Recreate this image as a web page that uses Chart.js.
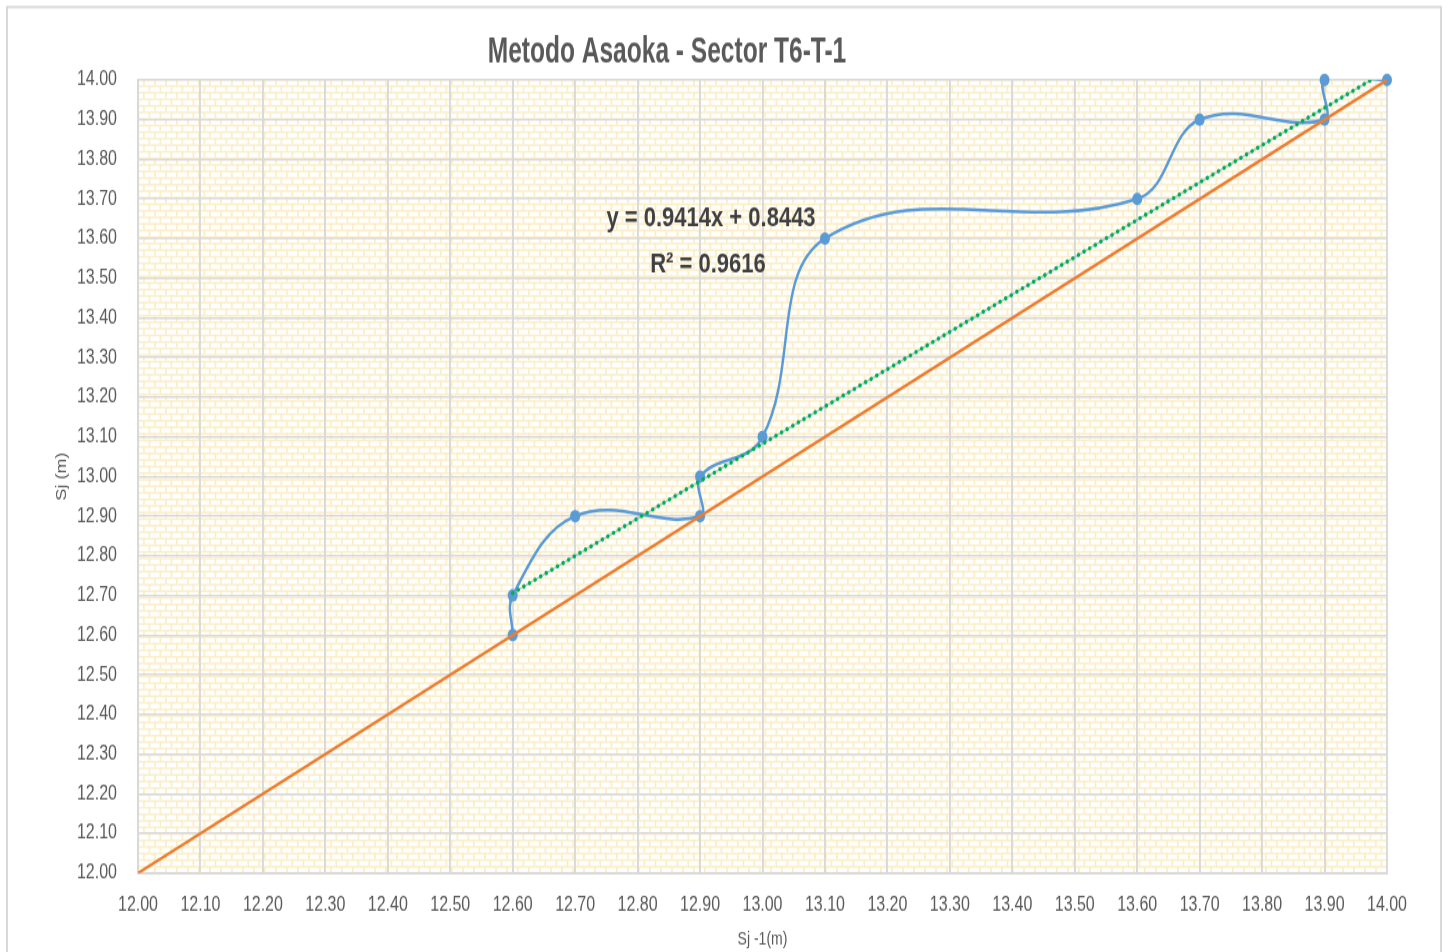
<!DOCTYPE html>
<html>
<head>
<meta charset="utf-8">
<title>Metodo Asaoka - Sector T6-T-1</title>
<script src="https://cdn.jsdelivr.net/npm/chart.js@4/dist/chart.umd.min.js"></script>
<style>
  html, body { margin: 0; padding: 0; background: #ffffff; overflow: hidden; }
  /* the chart is drawn on a shorter canvas and stretched to full height */
  #wrap { position: absolute; left: 0; top: 0; width: 1449px; height: 762px;
          transform-origin: 0 0; transform: scaleY(1.24934); }
  canvas { display: block; }
</style>
</head>
<body>
<div id="wrap"><canvas id="asaoka" width="1449" height="762"></canvas></div>
<script>
const FONT = "'Liberation Sans', Arial, sans-serif";

// Axis tick labels (settlement, m)
const xTickLabels = ['12.00','12.10','12.20','12.30','12.40','12.50','12.60','12.70','12.80','12.90',
                     '13.00','13.10','13.20','13.30','13.40','13.50','13.60','13.70','13.80','13.90','14.00'];
const yTickLabels = ['12.00','12.10','12.20','12.30','12.40','12.50','12.60','12.70','12.80','12.90',
                     '13.00','13.10','13.20','13.30','13.40','13.50','13.60','13.70','13.80','13.90','14.00'];

// Asaoka pairs: previous settlement S(j-1) against current settlement S(j)
const sjPrev = [12.60, 12.60, 12.70, 12.90, 12.90, 13.00, 13.10, 13.60, 13.70, 13.90, 13.90, 14.00];
const sjCurr = [12.60, 12.70, 12.90, 12.90, 13.00, 13.10, 13.60, 13.70, 13.90, 13.90, 14.00, 14.00];

// 45-degree reference line S(j) = S(j-1)
const equalityX = [12.00, 14.00];

// Linear fit of the Asaoka pairs
const trendSlope = 0.9414;
const trendIntercept = 0.8443;
const trendR2 = 0.9616;
const trendX = [12.60, 14.00];

const asaokaPoints = sjPrev.map((x, i) => ({ x: x, y: sjCurr[i] }));
const equalityPoints = equalityX.map(v => ({ x: v, y: v }));
const trendPoints = trendX.map(x => ({ x: x, y: trendSlope * x + trendIntercept }));

const titleText = 'Metodo Asaoka - Sector T6-T-1';
const eqText = 'y = ' + trendSlope.toFixed(4) + 'x + ' + trendIntercept.toFixed(4);
const r2Text = 'R\u00B2 = ' + trendR2.toFixed(4);

// Brick fill for the plot area
let brickFill = null;
function makeBrickFill(ctx) {
  const tile = document.createElement('canvas');
  tile.width = 11; tile.height = 21;
  const t = tile.getContext('2d');
  t.fillStyle = '#ffffff';
  t.fillRect(0, 0, 11, 21);
  t.fillStyle = '#FCEEC6';
  const rowH = 5.25;
  for (let r = 0; r < 4; r++) {
    const y = r * rowH;
    t.fillRect(0, y, 11, 1.5);
    t.fillRect(r % 2 ? 5.5 : 0, y, 1.8, rowH);
  }
  return ctx.createPattern(tile, 'repeat');
}

const backdrop = {
  id: 'backdrop',
  beforeDraw(chart) {
    const { ctx, chartArea: a } = chart;
    if (!brickFill) brickFill = makeBrickFill(ctx);
    ctx.save();
    ctx.fillStyle = brickFill;
    ctx.fillRect(a.left, a.top, a.right - a.left, a.bottom - a.top);
    // outer frame of the chart object
    ctx.strokeStyle = '#d9d9d9';
    ctx.lineWidth = 2;
    ctx.strokeRect(7, 5.6, 1434, 800);
    ctx.restore();
  }
};

function drawScaledText(ctx, text, x, y, sx) {
  ctx.save();
  ctx.translate(x, y);
  ctx.scale(sx, 1);
  ctx.fillText(text, 0, 0);
  ctx.restore();
}

const captions = {
  id: 'captions',
  afterDraw(chart) {
    const { ctx } = chart;
    ctx.save();
    ctx.textAlign = 'center';
    ctx.textBaseline = 'middle';
    ctx.fillStyle = '#595959';
    ctx.font = 'bold 29px ' + FONT;
    drawScaledText(ctx, titleText, 667, 41.6, 0.846);
    ctx.fillStyle = '#404040';
    ctx.font = 'bold 22px ' + FONT;
    drawScaledText(ctx, eqText, 711, 174.5, 1);
    drawScaledText(ctx, r2Text, 708, 212.3, 1);
    ctx.restore();
  }
};

const tickFont = { family: FONT, size: 16 };

new Chart(document.getElementById('asaoka'), {
  type: 'scatter',
  data: {
    datasets: [
      {
        label: 'Lineal (Sj)',
        data: trendPoints,
        showLine: true,
        borderColor: '#00B050',
        borderWidth: 3.4,
        borderDash: [0.01, 6.2],
        borderCapStyle: 'round',
        pointRadius: 0,
        tension: 0,
        order: 0
      },
      {
        label: 'Lineal (Sj) base',
        data: trendPoints,
        showLine: true,
        borderColor: 'rgba(110,155,200,0.5)',
        borderWidth: 1.8,
        pointRadius: 0,
        tension: 0,
        order: 1
      },
      {
        label: 'Sj = Sj-1',
        data: equalityPoints,
        showLine: true,
        borderColor: '#ED7D31',
        borderWidth: 2.5,
        pointRadius: 0,
        tension: 0,
        order: 2
      },
      {
        // markers are not clipped at the plot edge
        label: 'Sj markers',
        data: asaokaPoints,
        showLine: false,
        backgroundColor: '#5B9BD5',
        borderColor: '#5B9BD5',
        pointRadius: 5,
        pointBorderWidth: 0,
        clip: false,
        order: 3
      },
      {
        label: 'Sj',
        data: asaokaPoints,
        showLine: true,
        borderColor: '#5B9BD5',
        borderWidth: 2.5,
        pointRadius: 0,
        tension: 0.4,
        order: 4
      }
    ]
  },
  options: {
    responsive: false,
    animation: false,
    events: [],
    layout: { padding: { left: 49, top: 64, right: 62, bottom: 0 } },
    elements: { line: { capBezierPoints: false } },
    plugins: {
      legend: { display: false },
      title: { display: false },
      tooltip: { enabled: false }
    },
    scales: {
      x: {
        type: 'linear',
        min: 12, max: 14,
        afterBuildTicks(scale) { scale.ticks = xTickLabels.map(t => ({ value: parseFloat(t) })); },
        afterFit(scale) { scale.height = 63.2; },
        ticks: {
          autoSkip: false, maxRotation: 0,
          padding: 16,
          color: '#595959',
          font: tickFont,
          callback: (v, i) => xTickLabels[i]
        },
        grid: { color: '#d9d9d9', lineWidth: 1.9, drawTicks: false },
        border: { display: true, color: '#d9d9d9', width: 1.9 },
        title: {
          display: true,
          text: 'Sj -1(m)',
          color: '#595959',
          font: { family: FONT, size: 14 },
          padding: { top: 0, bottom: 1 }
        }
      },
      y: {
        type: 'linear',
        min: 12, max: 14,
        afterBuildTicks(scale) { scale.ticks = yTickLabels.map(t => ({ value: parseFloat(t) })); },
        afterFit(scale) { scale.width = 89; },
        ticks: {
          autoSkip: false,
          padding: 21,
          color: '#595959',
          font: tickFont,
          callback: (v, i) => yTickLabels[i]
        },
        grid: { color: '#d9d9d9', lineWidth: 1.6, drawTicks: false },
        border: { display: true, color: '#d9d9d9', width: 1.9 },
        title: {
          display: true,
          text: 'Sj (m)',
          color: '#595959',
          font: { family: FONT, size: 14.5 },
          padding: { top: 4, bottom: 0 }
        }
      }
    }
  },
  plugins: [backdrop, captions]
});
</script>
</body>
</html>
